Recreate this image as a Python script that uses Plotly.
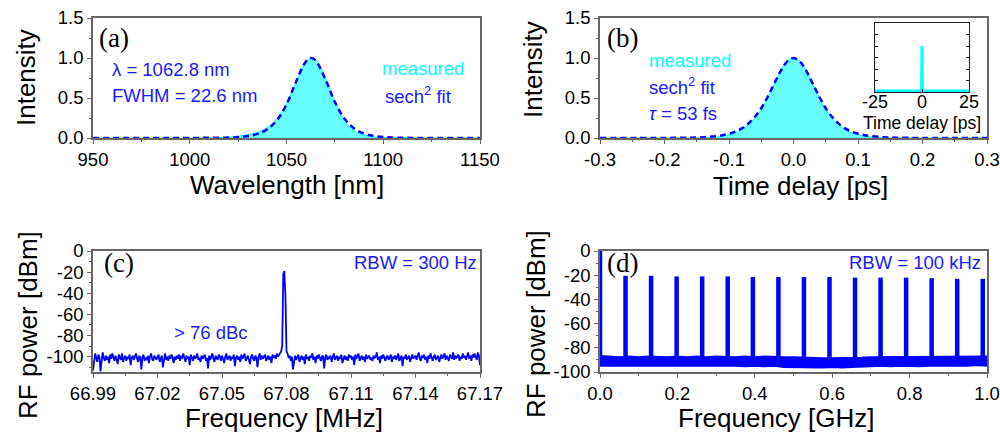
import numpy as np
import plotly.graph_objects as go

W, H = 1000, 434
BLUE = "#0000FF"
TXTBLUE = "#1a1aff"
CYAN = "#00FFFF"
FILLC = "rgb(102,255,255)"
FRAME = "#666666"

# ---------------- (a) optical spectrum ----------------
wl_meas = [950, 1010, 1015, 1020, 1025, 1030, 1035, 1040, 1045, 1050, 1055, 1060, 1062.8,
           1065, 1070, 1075, 1080, 1085, 1090, 1095, 1100, 1105, 1110, 1115, 1120, 1150]
int_meas = [0.0, 0.0, 0.005, 0.01, 0.02, 0.04, 0.07, 0.13, 0.24, 0.43, 0.70, 0.95, 1.0,
            0.98, 0.76, 0.46, 0.22, 0.09, 0.035, 0.012, 0.005, 0.006, 0.008, 0.004, 0.0, 0.0]
wl_fit = [950, 1010, 1020, 1025, 1030, 1035, 1040, 1045, 1050, 1055, 1060, 1062.8, 1065,
          1070, 1075, 1080, 1085, 1090, 1095, 1100, 1105, 1115, 1150]
int_fit = [0.0, 0.002, 0.005, 0.011, 0.024, 0.051, 0.108, 0.22, 0.42, 0.706, 0.954, 1.0, 0.971,
           0.74, 0.45, 0.24, 0.118, 0.056, 0.026, 0.012, 0.0055, 0.001, 0.0]
wl_ticks = [950, 1000, 1050, 1100, 1150]

# ---------------- (b) autocorrelation ----------------
t_ac = [-0.30, -0.20, -0.16, -0.14, -0.12, -0.11, -0.10, -0.09, -0.08, -0.07, -0.06, -0.05,
        -0.04, -0.03, -0.02, -0.01, 0.0, 0.01, 0.02, 0.03, 0.04, 0.05, 0.06, 0.07, 0.08,
        0.09, 0.10, 0.11, 0.12, 0.14, 0.16, 0.20, 0.30]
ac_meas = [0.0, 0.0, 0.001, 0.004, 0.012, 0.022, 0.04, 0.065, 0.105, 0.165, 0.245, 0.355,
           0.50, 0.67, 0.84, 0.96, 1.0, 0.96, 0.84, 0.67, 0.50, 0.355, 0.245, 0.165, 0.105,
           0.065, 0.04, 0.022, 0.012, 0.004, 0.001, 0.0, 0.0]
ac_fit = [0.0, 0.0007, 0.004, 0.0097, 0.023, 0.035, 0.053, 0.08, 0.12, 0.18, 0.263, 0.372,
          0.515, 0.677, 0.835, 0.955, 1.0, 0.955, 0.835, 0.677, 0.515, 0.372, 0.263, 0.18, 0.12,
          0.08, 0.053, 0.035, 0.023, 0.0097, 0.004, 0.0007, 0.0]
t_ticks = [-0.3, -0.2, -0.1, 0.0, 0.1, 0.2, 0.3]
t_ticktext = ["-0.3", "-0.2", "-0.1", "0.0", "0.1", "0.2", "0.3"]
int_ticks = [0.0, 0.5, 1.0, 1.5]
int_ticktext = ["0.0", "0.5", "1.0", "1.5"]
# inset: long-range autocorrelation
t_inset = [-25, -0.25, 0.0, 0.25, 25]
ac_inset = [0.02, 0.02, 1.0, 0.02, 0.02]
inset_ticks = [-25, 0, 25]
inset_ticktext = ["-25", "0", "25"]

# ---------------- (c) RF spectrum, narrow span ----------------
f_c_start, f_c_stop = 66.99, 67.17
p_c = [
    -113, -103, -97, -101, -105, -98, -100, -114, -102, -96, -101, -104, -99, -103, -100, -106, -98, -102, -97, -101,
    -104, -99, -102, -107, -98, -100, -103, -97, -105, -101, -99, -104, -100, -102, -98, -108, -101, -99, -103, -100,
    -97, -102, -105, -99, -101, -112, -100, -98, -104, -101, -103, -99, -106, -100, -97, -102, -104, -99, -101, -103,
    -100, -98, -105, -102, -99, -110, -101, -97, -103, -100, -104, -99, -102, -98, -101, -106, -100, -103, -99, -102,
    -98, -104, -100, -101, -97, -103, -105, -99, -102, -100, -108, -98, -101, -104, -99, -102, -100, -97, -103, -101,
    -105, -99, -102, -100, -98, -104, -101, -111, -99, -103, -100, -97, -102, -105, -99, -101, -103, -98, -100, -104,
    -99, -102, -106, -100, -97, -103, -101, -99, -104, -100, -102, -98, -109, -101, -99, -103, -100, -105, -98, -102,
    -100, -97, -104, -101, -99, -103, -107, -100, -98, -102, -104, -99, -101, -110, -100, -97, -103, -99, -102, -100,
    -98, -104, -101, -99, -103, -100, -106, -98, -101, -99, -102, -97, -100, -98, -96, -95, -90, -22, -19, -42,
    -95, -97, -101, -99, -104, -100, -112, -102, -99, -103, -100, -98, -105, -101, -99, -103, -100, -107, -98, -102,
    -100, -104, -99, -101, -97, -103, -100, -106, -99, -102, -98, -101, -104, -100, -99, -111, -101, -98, -103, -100,
    -102, -99, -105, -100, -97, -103, -101, -99, -104, -100, -102, -98, -106, -101, -99, -103, -100, -104, -98, -101,
    -99, -103, -100, -108, -98, -102, -100, -97, -104, -101, -99, -103, -100, -105, -98, -102, -100, -99, -103, -101,
    -104, -99, -101, -100, -96, -103, -100, -106, -99, -102, -98, -101, -104, -100, -99, -103, -101, -98, -105, -100,
    -102, -99, -103, -100, -97, -104, -101, -99, -109, -100, -102, -98, -103, -100, -99, -105, -101, -98, -102, -100,
    -99, -103, -100, -96, -102, -104, -99, -101, -98, -103, -100, -106, -99, -102, -97, -101, -104, -100, -98, -103,
    -100, -99, -105, -101, -98, -102, -100, -97, -103, -99, -101, -104, -98, -100, -102, -96, -103, -99, -101, -100,
    -98, -104, -100, -102, -97, -101, -99, -103, -100, -96, -102, -99, -104, -98, -101, -97, -100, -103, -96, -99,
    -108,
]
f_c = np.linspace(f_c_start, f_c_stop, len(p_c))
fc_ticks = [66.99, 67.02, 67.05, 67.08, 67.11, 67.14, 67.17]
fc_ticktext = ["66.99", "67.02", "67.05", "67.08", "67.11", "67.14", "67.17"]
dbm_ticks = [0, -20, -40, -60, -80, -100]
dbm_ticktext = ["0", "-20", "-40", "-60", "-80", "-100"]

# ---------------- (d) RF spectrum, wide span ----------------
peak_f = [0.0, 0.066, 0.132, 0.198, 0.264, 0.330, 0.395, 0.461, 0.527, 0.593, 0.659, 0.725,
          0.791, 0.857, 0.923, 0.989]
peak_p = [0.0, -20.5, -20.5, -21.0, -21.0, -21.0, -21.5, -21.5, -21.5, -21.5, -22.0, -22.0,
          -22.0, -22.5, -23.0, -23.0]
floor_f = [round(0.025 * i, 3) for i in range(41)]
floor_hi = [-86.5, -87, -87.5, -87, -87.5, -87, -87.5, -87.5, -87, -87.5, -87, -87.5, -87, -87.5,
            -87.5, -87, -87.5, -87, -87.5, -87.5, -87.5, -88, -88, -88.5, -88.5, -88.5, -88, -88,
            -87.5, -87.5, -87.5, -87, -87.5, -87, -87, -87.5, -87, -87, -87.5, -87, -87]
floor_lo = [-95, -95, -95, -95.5, -95, -95, -95.5, -95, -95, -95.5, -95, -95, -95.5, -95, -95,
            -95.5, -95, -95.5, -95, -96, -96, -96.5, -96.5, -96.5, -96, -96.5, -96, -95.5, -95.5,
            -95, -95.5, -95, -95, -95.5, -95, -95, -94.5, -95, -95, -94.5, -95]
fd_ticks = [0.0, 0.2, 0.4, 0.6, 0.8, 1.0]
fd_ticktext = ["0.0", "0.2", "0.4", "0.6", "0.8", "1.0"]


def px(x):
    return x / W


def py(y):
    return 1 - y / H


fig = go.Figure()

# (a)
fig.add_trace(go.Scatter(x=wl_meas, y=int_meas, mode="lines", line=dict(color=CYAN, width=1, shape="spline"),
                         fill="tozeroy", fillcolor=FILLC, xaxis="x", yaxis="y", showlegend=False))
fig.add_trace(go.Scatter(x=wl_fit, y=int_fit, mode="lines",
                         line=dict(color=BLUE, width=2.5, dash="6px,4px", shape="spline"),
                         xaxis="x", yaxis="y", showlegend=False))
# (b)
fig.add_trace(go.Scatter(x=t_ac, y=ac_meas, mode="lines", line=dict(color=CYAN, width=1, shape="spline"),
                         fill="tozeroy", fillcolor=FILLC, xaxis="x2", yaxis="y2", showlegend=False))
fig.add_trace(go.Scatter(x=t_ac, y=ac_fit, mode="lines",
                         line=dict(color=BLUE, width=2.5, dash="6px,4px", shape="spline"),
                         xaxis="x2", yaxis="y2", showlegend=False))
# inset
fig.add_trace(go.Scatter(x=t_inset, y=ac_inset, mode="lines", line=dict(color=CYAN, width=3),
                         xaxis="x5", yaxis="y5", showlegend=False))
# (c)
fig.add_trace(go.Scatter(x=f_c, y=p_c, mode="lines", line=dict(color=BLUE, width=1.8),
                         xaxis="x3", yaxis="y3", showlegend=False))
# (d) noise floor band
fig.add_trace(go.Scatter(x=floor_f + floor_f[::-1], y=floor_hi + floor_lo[::-1], mode="lines",
                         fill="toself", fillcolor=BLUE, line=dict(color=BLUE, width=1.5),
                         xaxis="x4", yaxis="y4", showlegend=False))
# (d) comb lines
px_d, py_d = [], []
for f, p in zip(peak_f, peak_p):
    px_d += [f, f, None]
    py_d += [-89, p, None]
fig.add_trace(go.Scatter(x=px_d, y=py_d, mode="lines", line=dict(color=BLUE, width=4.5),
                         xaxis="x4", yaxis="y4", showlegend=False))

TICKFONT = dict(family="Liberation Sans, Arial", size=18.5, color="black")
common = dict(showline=True, linecolor=FRAME, linewidth=1.5, mirror=True, showgrid=False,
              zeroline=False, ticks="outside", ticklen=4, tickwidth=1, tickcolor=FRAME,
              tickfont=TICKFONT, automargin=False, ticklabeloverflow="allow")
minor = dict(ticks="outside", ticklen=2, tickcolor=FRAME)

top_y = [py(138), py(18)]
bot_y = [py(372), py(251)]
left_x = [px(93), px(480)]
right_x = [px(600), px(987)]

fig.update_layout(
    template="none",
    width=W, height=H, margin=dict(l=0, r=0, t=0, b=0, pad=0, autoexpand=False),
    paper_bgcolor="white", plot_bgcolor="white", showlegend=False,
    xaxis=dict(domain=left_x, range=[950, 1150], tickvals=wl_ticks, anchor="y",
               minor=dict(dtick=25, **minor), **common),
    yaxis=dict(domain=top_y, range=[0, 1.5], tickvals=int_ticks, ticktext=int_ticktext, anchor="x",
               minor=dict(dtick=0.25, **minor), **common),
    xaxis2=dict(domain=right_x, range=[-0.3, 0.3], tickvals=t_ticks, ticktext=t_ticktext, anchor="y2",
                minor=dict(dtick=0.05, **minor), **common),
    yaxis2=dict(domain=top_y, range=[0, 1.5], tickvals=int_ticks, ticktext=int_ticktext, anchor="x2",
                minor=dict(dtick=0.25, **minor), **common),
    xaxis3=dict(domain=left_x, range=[f_c_start, f_c_stop], tickvals=fc_ticks, ticktext=fc_ticktext,
                anchor="y3", minor=dict(tick0=66.99, dtick=0.015, **minor), **common),
    yaxis3=dict(domain=bot_y, range=[-114.5, 0], tickvals=dbm_ticks, ticktext=dbm_ticktext, anchor="x3",
                minor=dict(dtick=10, **minor), **common),
    xaxis4=dict(domain=right_x, range=[0, 1], tickvals=fd_ticks, ticktext=fd_ticktext, anchor="y4",
                minor=dict(dtick=0.1, **minor), **common),
    yaxis4=dict(domain=bot_y, range=[-100, 0], tickvals=dbm_ticks, ticktext=dbm_ticktext, anchor="x4",
                minor=dict(dtick=10, **minor), **common),
    xaxis5=dict(domain=[px(875), px(969)], range=[-25, 25], tickvals=inset_ticks, ticktext=inset_ticktext,
                anchor="y5", showline=True, linecolor="#222", linewidth=1.2, mirror=True, showgrid=False,
                zeroline=False, ticks="inside", ticklen=3, tickcolor="#222", automargin=False,
                ticklabelstandoff=-7, ticklabeloverflow="allow",
                tickfont=dict(family="Liberation Sans, Arial", size=18, color="black")),
    yaxis5=dict(domain=[py(92), py(23)], range=[0, 1.5], anchor="x5", showticklabels=False,
                showline=True, linecolor="#222", linewidth=1.2, mirror="allticks", showgrid=False,
                zeroline=False, ticks="inside", ticklen=3, tickcolor="#222", dtick=0.25, automargin=False),
)

SANS = "Liberation Sans, Arial"
SERIF = "Liberation Serif, Times New Roman"


def ann(text, x, y, size=18.5, color=TXTBLUE, xanchor="left", family=SANS, angle=0):
    fig.add_annotation(text=text, x=px(x), y=py(y), xref="paper", yref="paper", showarrow=False,
                       xanchor=xanchor, yanchor="middle", textangle=angle,
                       font=dict(family=family, size=size, color=color))


# axis titles
ann("Intensity", 26, 78, size=26, color="black", xanchor="center", angle=-90)
ann("Intensity", 533, 70, size=26, color="black", xanchor="center", angle=-90)
ann("Wavelength [nm]", 287, 185, size=26, color="black", xanchor="center")
ann("Time delay [ps]", 800, 186, size=26, color="black", xanchor="center")
ann("RF power [dBm]", 28, 325, size=26, color="black", xanchor="center", angle=-90)
ann("RF power [dBm]", 536, 324, size=26, color="black", xanchor="center", angle=-90)
ann("Frequency [MHz]", 284, 418, size=26, color="black", xanchor="center")
ann("Frequency [GHz]", 776, 418, size=26, color="black", xanchor="center")
ann("Time delay [ps]", 922, 123, size=17.5, color="black", xanchor="center")

# panel labels
ann("(a)", 97, 38, size=27, color="black", family=SERIF)
ann("(b)", 605, 38, size=27, color="black", family=SERIF)
ann("(c)", 102, 263, size=27, color="black", family=SERIF)
ann("(d)", 605, 263, size=27, color="black", family=SERIF)

# panel (a) texts
ann("λ = 1062.8 nm", 110, 70)
ann("FWHM = 22.6 nm", 110, 95)
ann("measured", 466, 68, color=CYAN, xanchor="right")
ann("sech<sup>2</sup> fit", 383, 95)
# panel (b) texts
ann("measured", 647, 60, color=CYAN)
ann("sech<sup>2</sup> fit", 647, 86)
ann("<i>τ</i> = 53 fs", 647, 114)
# panel (c)/(d) texts
ann("RBW = 300 Hz", 479, 262, xanchor="right")
ann("&gt; 76 dBc", 172, 332)
ann("RBW = 100 kHz", 983, 262, xanchor="right")

# remove the browser's default 8px page margin so the figure fills the window exactly
fig.write_html("out.html", config={"displayModeBar": False},
               post_script="document.body.style.margin='0px';")
